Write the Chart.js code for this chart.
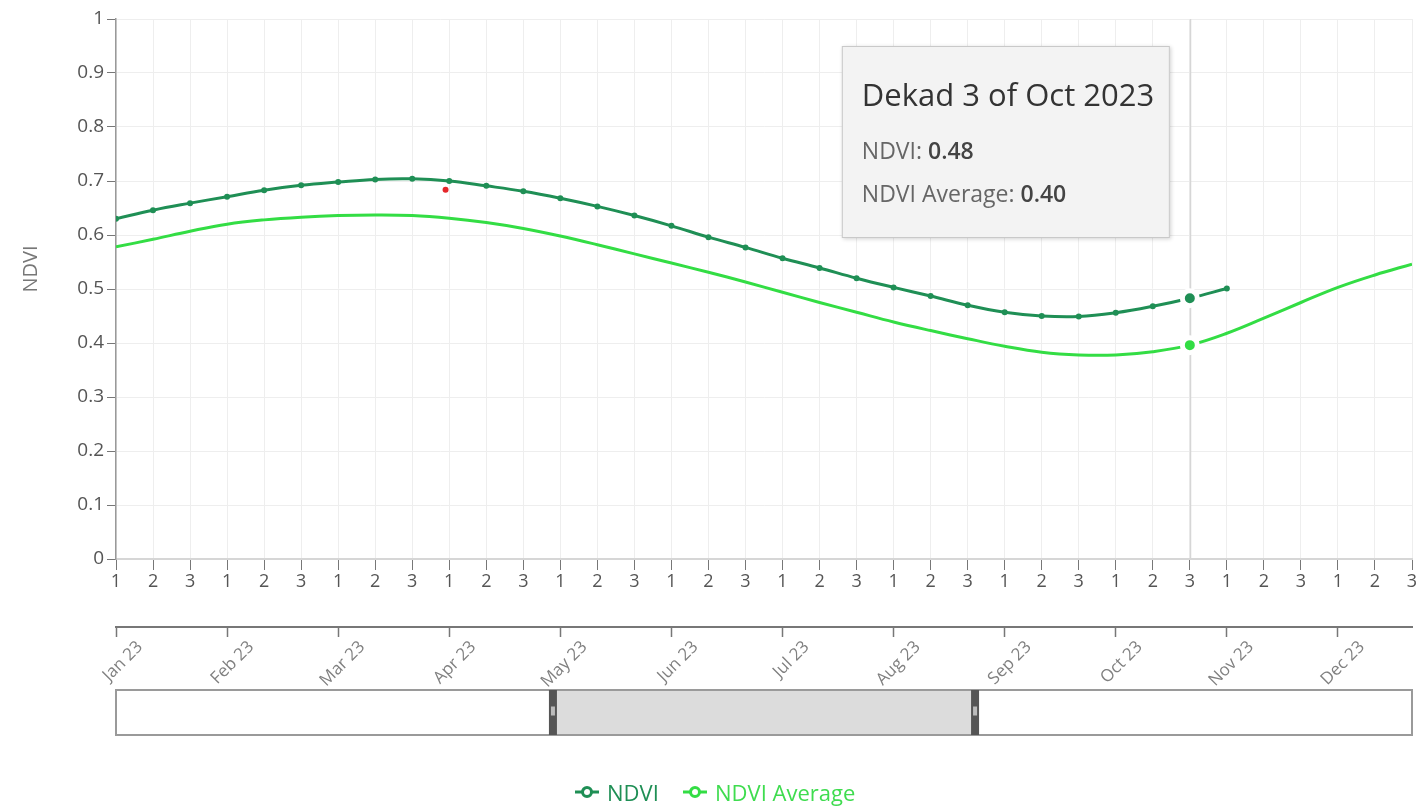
<!DOCTYPE html>
<html><head><meta charset="utf-8">
<script src="https://cdn.jsdelivr.net/npm/chart.js@4.4.1/dist/chart.umd.min.js"></script>
<style>
html,body{margin:0;padding:0;background:#fff;}
#wrap{position:relative;width:1423px;height:807px;overflow:hidden;}
#c{position:absolute;left:0;top:0;}
.lg{position:absolute;top:777px;font-family:'Open Sans',sans-serif;font-size:22px;line-height:30px;white-space:nowrap;}
.lg svg{position:absolute;left:-33px;top:7px;}
</style></head>
<body><div id="wrap"><canvas id="c" width="1423" height="807"></canvas>
<div class="lg" id="lg1" style="left:607px;color:#1f8f55"><svg width="26" height="16"><line x1="1" y1="8" x2="25" y2="8" stroke="#1f8f55" stroke-width="3"/><circle cx="13" cy="8" r="4.5" fill="#fff" stroke="#1f8f55" stroke-width="3"/></svg>NDVI</div>
<div class="lg" id="lg2" style="left:715px;color:#3fdc4f"><svg width="26" height="16"><line x1="1" y1="8" x2="25" y2="8" stroke="#33dd44" stroke-width="3"/><circle cx="13" cy="8" r="4.5" fill="#fff" stroke="#33dd44" stroke-width="3"/></svg>NDVI Average</div>
</div>
<script>
// ---- data ----
const dekadLabels = ['1','2','3'];
const monthLabels = ['Jan 23','Feb 23','Mar 23','Apr 23','May 23','Jun 23','Jul 23','Aug 23','Sep 23','Oct 23','Nov 23','Dec 23'];
const yTickValues = [0,0.1,0.2,0.3,0.4,0.5,0.6,0.7,0.8,0.9,1];
const yTickLabels = ['0','0.1','0.2','0.3','0.4','0.5','0.6','0.7','0.8','0.9','1'];
const ndvi = [0.630,0.646,0.659,0.671,0.683,0.692,0.698,0.703,0.704,0.700,0.691,0.681,0.668,0.653,0.636,0.617,0.596,0.577,0.557,0.539,0.520,0.503,0.487,0.470,0.457,0.450,0.449,0.456,0.468,0.483,0.501];
const ndviAvg = [0.578,0.592,0.607,0.620,0.628,0.633,0.636,0.637,0.636,0.631,0.623,0.612,0.598,0.582,0.565,0.548,0.531,0.513,0.494,0.475,0.457,0.439,0.423,0.408,0.394,0.383,0.378,0.378,0.384,0.396,0.418,0.446,0.475,0.503,0.526,0.546];
const oddPoint = [{x:8.9, y:0.684}];
const hoverIndex = 29;
const hoverTitle = 'Dekad 3 of Oct 2023';
const yTitle = 'NDVI';
const navigatorRange = [11.8, 23.2];

const NDVI_COLOR = '#1f8f55';
const AVG_COLOR = '#33dd44';

Chart.defaults.font.family = "'Open Sans', sans-serif";
Chart.defaults.color = '#555';

const toXY = arr => arr.map((v,i)=>({x:i,y:v}));
const radii = (arr, small) => arr.map((_,i)=> i===hoverIndex ? 7.5 : small);
const bw = arr => arr.map((_,i)=> i===hoverIndex ? 5 : 0);

const overlay = {
  id: 'overlay',
  beforeDatasetsDraw(chart){
    const {ctx, chartArea:a, scales:{x}} = chart;
    const px = Math.round(x.getPixelForValue(hoverIndex)) + 0.5;
    ctx.save();
    ctx.strokeStyle = '#d6d6d6'; ctx.lineWidth = 1.5;
    ctx.beginPath(); ctx.moveTo(px, a.top); ctx.lineTo(px, a.bottom); ctx.stroke();
    ctx.restore();
  },
  afterDraw(chart){
    const {ctx, chartArea:a, scales:{x}} = chart;
    ctx.save();
    // y-axis title
    ctx.save();
    ctx.translate(31, a.top + 250);
    ctx.rotate(-Math.PI/2);
    ctx.font = "20px 'Open Sans'"; ctx.fillStyle = '#777';
    ctx.textAlign = 'center'; ctx.textBaseline = 'middle';
    ctx.fillText(yTitle, 0, 0);
    ctx.restore();
    // navigator
    const L = x.getPixelForValue(0), R = x.getPixelForValue(35);
    const top = 690, h = 45;
    ctx.fillStyle = '#fff'; ctx.fillRect(L, top, R-L, h);
    const s0 = x.getPixelForValue(navigatorRange[0]), s1 = x.getPixelForValue(navigatorRange[1]);
    ctx.fillStyle = '#dcdcdc'; ctx.fillRect(s0, top, s1-s0, h);
    ctx.strokeStyle = '#9a9a9a'; ctx.lineWidth = 2; ctx.strokeRect(L, top, R-L, h);
    for (const s of [s0, s1]) {
      ctx.fillStyle = '#555'; ctx.fillRect(s-4, top, 8, h);
      ctx.fillStyle = '#bbb'; ctx.fillRect(s-2, top + h/2 - 6, 4, 9);
    }
    // tooltip
    const px = x.getPixelForValue(hoverIndex);
    const bx = px - 348, by = 46, bwid = 328, bh = 192;
    ctx.shadowColor = 'rgba(0,0,0,0.18)'; ctx.shadowBlur = 4; ctx.shadowOffsetX = 1; ctx.shadowOffsetY = 1;
    ctx.fillStyle = '#f3f3f3'; ctx.fillRect(bx, by, bwid, bh);
    ctx.shadowColor = 'transparent';
    ctx.strokeStyle = '#c9c9c9'; ctx.lineWidth = 1; ctx.strokeRect(bx+0.5, by+0.5, bwid-1, bh-1);
    ctx.textBaseline = 'middle'; ctx.textAlign = 'left';
    ctx.fillStyle = '#333'; ctx.font = "31px 'Open Sans'";
    ctx.fillText(hoverTitle, bx + 20, 97);
    const rows = [
      [chart.data.datasets[0].label, ndvi[hoverIndex], 152],
      [chart.data.datasets[1].label, ndviAvg[hoverIndex], 195]
    ];
    for (const [lab, val, y] of rows) {
      ctx.font = "23px 'Open Sans'"; ctx.fillStyle = '#666';
      const t = lab + ': ';
      ctx.fillText(t, bx + 20, y);
      const w = ctx.measureText(t).width;
      ctx.font = "600 23px 'Open Sans'"; ctx.fillStyle = '#444';
      ctx.fillText(val.toFixed(2), bx + 20 + w, y);
    }
    ctx.restore();
  }
};

new Chart(document.getElementById('c'), {
  type: 'line',
  data: {
    datasets: [
      {
        label: 'NDVI', data: toXY(ndvi), borderColor: NDVI_COLOR, backgroundColor: NDVI_COLOR,
        borderWidth: 3, tension: 0.4, pointRadius: radii(ndvi, 3), pointBorderWidth: bw(ndvi),
        pointBorderColor: '#fff', pointBackgroundColor: NDVI_COLOR, order: 1
      },
      {
        label: 'NDVI Average', data: toXY(ndviAvg), borderColor: AVG_COLOR, backgroundColor: AVG_COLOR,
        borderWidth: 3, tension: 0.4, pointRadius: radii(ndviAvg, 0), pointBorderWidth: bw(ndviAvg),
        pointBorderColor: '#fff', pointBackgroundColor: AVG_COLOR, order: 2
      },
      {
        label: 'marker', data: oddPoint, showLine: false, pointRadius: 3, pointBorderWidth: 0,
        pointBackgroundColor: '#e5262a', order: 0
      }
    ]
  },
  options: {
    responsive: false, animation: false, events: [],
    layout: { padding: { top: 19, right: 11, bottom: 117, left: 0 } },
    plugins: { legend: { display: false }, tooltip: { enabled: false } },
    scales: {
      x: {
        type: 'linear', position: 'bottom', min: 0, max: 35, weight: 0,
        afterBuildTicks: s => { s.ticks = Array.from({length:36}, (_,i)=>({value:i})); },
        afterFit: s => { s.height = 68; },
        ticks: { callback: (v,i) => dekadLabels[i % 3], maxRotation: 0, minRotation: 0, autoSkip: false,
                 font: { size: 18 }, color: '#555', padding: 1 },
        grid: { color: '#eeeeee', lineWidth: 1, drawTicks: true, tickLength: 11, tickColor: '#777', tickWidth: 1 },
        border: { color: '#d6d6d6', width: 2 }
      },
      x2: {
        type: 'linear', position: 'bottom', min: 0, max: 35, weight: 1,
        afterBuildTicks: s => { s.ticks = monthLabels.map((_,i)=>({value:i*3})); },
        afterFit: s => { s.height = 63; },
        ticks: { callback: (v,i) => monthLabels[i], maxRotation: 45, minRotation: 45, autoSkip: false,
                 font: { size: 17 }, color: '#808080', padding: 0, labelOffset: 24 },
        grid: { drawOnChartArea: false, drawTicks: true, tickLength: 10, tickColor: '#777', tickWidth: 1.5 },
        border: { color: '#777', width: 2 }
      },
      y: {
        min: 0, max: 1,
        afterBuildTicks: s => { s.ticks = yTickValues.map(v=>({value:v})); },
        afterFit: s => { s.width = 116; },
        ticks: { callback: (v,i) => yTickLabels[i], font: { size: 19 }, color: '#555', padding: 3 },
        grid: { color: '#eeeeee', drawTicks: true, tickLength: 9, tickColor: '#777' },
        border: { color: '#999', width: 1.5 },
        title: { display: false }
      }
    }
  },
  plugins: [overlay]
});
</script>
</body></html>
